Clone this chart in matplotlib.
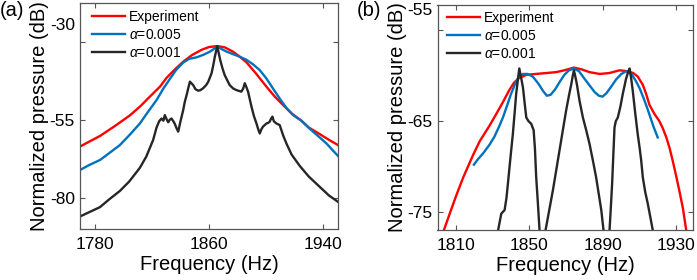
import matplotlib
matplotlib.use("Agg")
import matplotlib.pyplot as plt
from matplotlib.transforms import ScaledTranslation

plt.rcParams["font.family"] = ["Liberation Sans", "DejaVu Sans"]
plt.rcParams["mathtext.fontset"] = "custom"
plt.rcParams["mathtext.rm"] = "Liberation Sans"
plt.rcParams["mathtext.it"] = "Liberation Sans:italic"
plt.rcParams["axes.unicode_minus"] = False

# ---- panel (a) data ----
f_a_exp = [1769.5, 1776, 1783.5, 1794, 1804.5, 1812, 1818.5, 1825.6, 1830.2, 1836, 1841.9, 1848,
           1854.8, 1860, 1865.8, 1871, 1876.9, 1881, 1886.3, 1893, 1900.3, 1906, 1912, 1918,
           1924.8, 1930, 1937.7, 1944, 1950.5]
db_a_exp = [-63.6, -62.0, -60.2, -57.0, -53.6, -50.6, -47.6, -44.4, -41.6, -38.9, -36.4, -34.3,
            -32.6, -31.7, -31.4, -31.8, -33.2, -34.6, -36.6, -40.2, -44.4, -47.5, -50.3, -53.0,
            -55.3, -57.5, -59.6, -61.4, -63.1]

f_a_005 = [1769.5, 1776, 1783.5, 1790, 1797.5, 1804, 1811.5, 1817, 1823.2, 1828, 1832.6, 1837,
           1841.9, 1846, 1851.3, 1856, 1860.6, 1863.5, 1865.8, 1869, 1872, 1876.9, 1881, 1886.3,
           1891, 1895.6, 1900.3, 1904.9, 1909.6, 1914.3, 1919, 1924.8, 1930.7, 1936, 1942.4, 1950.5]
db_a_005 = [-71.1, -69.5, -67.9, -65.7, -63.1, -60.0, -56.2, -52.6, -48.7, -45.0, -41.9, -39.0,
            -36.7, -35.5, -35.0, -34.2, -33.2, -32.3, -31.5, -32.4, -33.1, -34.0, -34.7, -35.8,
            -37.3, -39.1, -41.8, -45.0, -48.2, -51.2, -53.5, -55.3, -57.9, -60.0, -62.6, -66.6]

f_a_001 = [1769.5, 1776, 1783.5, 1790, 1797.5, 1804, 1811.5, 1816, 1820.8, 1823.2, 1825, 1826.7,
           1828, 1829, 1830.2, 1831.4, 1832.5, 1833.7, 1835, 1836, 1837.3, 1838.4, 1840, 1841.9,
           1843, 1844.3, 1845.5, 1846.6, 1848.9, 1850.5, 1852.4, 1854, 1855.9, 1858, 1859.5,
           1861.8, 1863, 1864.1, 1865.8, 1866.8, 1867.9, 1869.5, 1871, 1874.5, 1877, 1879.2,
           1882.7, 1884, 1885.1, 1886.2, 1887.4, 1889.8, 1891.5, 1893.3, 1894.5, 1895.6, 1896.8,
           1897.9, 1900.3, 1901.5, 1902.6, 1903.5, 1904.5, 1905.5, 1907.3, 1909.6, 1912, 1914.3,
           1918, 1923.7, 1930, 1937.7, 1944, 1950.5]
db_a_001 = [-86.0, -84.6, -83.0, -80.5, -77.8, -74.8, -70.4, -66.8, -61.5, -57.5, -55.5, -54.6,
            -55.3, -53.5, -54.8, -55.8, -55.0, -54.6, -55.5, -56.3, -57.8, -58.8, -55.5, -51.9,
            -49.3, -47.1, -44.8, -42.8, -43.9, -45.2, -45.7, -45.5, -44.9, -43.9, -42.8,
            -40.1, -37.5, -34.8, -31.4, -33.6, -35.9, -38.6, -40.7, -43.9, -45.0, -45.5,
            -46.0, -45.0, -43.3, -44.5, -46.0, -50.8, -53.8, -56.2, -58.0, -59.4, -58.0,
            -57.2, -56.2, -56.0, -55.6, -54.7, -54.0, -55.5, -56.2, -56.7, -60.0, -62.6,
            -66.2, -69.8, -73.2, -76.5, -79.2, -81.3]

# ---- panel (b) data ----
f_b_exp = [1803.5, 1807, 1810.2, 1814, 1819.2, 1823, 1828.3, 1832, 1835.6, 1839, 1841.5, 1844,
           1848.3, 1853.6, 1859.2, 1864.5, 1869, 1874.2, 1878.5, 1882.7, 1888.2, 1893.5, 1899,
           1903.5, 1906.5, 1909, 1911.7, 1913.5, 1915.3, 1918, 1920.7, 1922.6, 1924.5, 1926.3,
           1928, 1929.9, 1931.7, 1933.5, 1935.3]
db_b_exp = [-77.0, -75.0, -73.2, -71.2, -68.8, -67.2, -65.5, -64.2, -62.9, -61.6, -60.8, -60.3,
            -59.9, -59.8, -59.7, -59.6, -59.4, -59.1, -59.3, -59.6, -59.8, -59.7, -59.4,
            -59.5, -59.7, -60.1, -61.0, -62.0, -63.2, -64.2, -65.0, -65.8, -66.8, -68.0,
            -69.4, -71.1, -72.8, -74.6, -77.0]

f_b_005 = [1819.8, 1822, 1825, 1828.3, 1831, 1833.5, 1835.6, 1838, 1840, 1842, 1844, 1846.5,
           1849, 1851.9, 1855, 1857.5, 1859.5, 1861.5, 1864, 1866.4, 1869, 1871.5, 1874.2, 1877,
           1879.5, 1882.5, 1885.5, 1887.8, 1889.8, 1892, 1894.5, 1897.2, 1900, 1902.8, 1905.5,
           1908, 1910, 1912, 1914, 1915.5, 1917.5, 1919.8]
db_b_005 = [-69.8, -69.2, -68.5, -67.6, -66.7, -65.6, -64.6, -63.2, -62.0, -61.0, -60.2, -59.8,
            -59.8, -60.1, -60.9, -61.7, -62.2, -62.1, -61.5, -60.7, -59.9, -59.4, -59.2, -59.5,
            -60.2, -61.0, -61.8, -62.2, -62.3, -61.9, -61.2, -60.4, -59.8, -59.5, -59.8,
            -60.6, -61.4, -62.4, -63.5, -64.4, -65.6, -66.8]

f_b_001_1 = [1832.0, 1833.0, 1834.7, 1836.5, 1837.5, 1838.3, 1839.7, 1841.0, 1842.0, 1842.8,
             1843.8, 1844.5, 1845.3, 1846.5, 1847.3, 1848.3, 1849.5, 1851.0, 1852.3, 1853.0,
             1853.7, 1854.6, 1855.5, 1856.0]
db_b_001_1 = [-78.0, -77.0, -75.2, -74.8, -73.5, -71.9, -69.0, -66.4, -64.0, -62.0,
              -60.3, -59.2, -60.0, -61.3, -62.8, -64.6, -65.0, -65.3, -66.0, -68.0,
              -71.2, -74.0, -77.0, -78.5]
f_b_001_2 = [1858.0, 1858.8, 1860.8, 1862.8, 1864.6, 1866.4, 1868.2, 1870.0, 1871.5, 1872.8,
             1873.6, 1874.2, 1874.9, 1875.8, 1877.3, 1879.1, 1880.9, 1882.7, 1884.5, 1886.3,
             1887.7, 1889.1, 1890.3, 1891.0]
db_b_001_2 = [-78.5, -77.0, -74.8, -72.6, -70.4, -68.2, -66.0, -63.8, -62.2, -60.9,
              -60.0, -59.4, -60.0, -60.9, -62.8, -64.6, -66.0, -67.5, -69.3, -71.2,
              -73.0, -74.8, -77.0, -78.5]
f_b_001_3 = [1893.0, 1893.6, 1894.3, 1895.0, 1895.7, 1896.3, 1897.0, 1898.1, 1899.5, 1900.8,
             1902.5, 1903.7, 1904.5, 1905.3, 1906.2, 1907.5, 1908.9, 1910.0, 1910.8, 1911.7,
             1913.0, 1914.4, 1915.8, 1917.1, 1918.0]
db_b_001_3 = [-78.5, -77.0, -74.5, -71.9, -68.5, -65.7, -65.0, -64.6, -63.4, -62.0,
              -60.4, -59.6, -59.2, -60.2, -61.6, -64.0, -66.4, -68.0, -69.3, -71.2,
              -72.8, -74.1, -75.6, -77.0, -78.5]

labels = ["Experiment", r"$\alpha$=0.005", r"$\alpha$=0.001"]
c_exp = "#ff0000"
c_005 = "#0072bd"
c_001 = "#262626"
lw = 1.7
edge = "#555555"

fig = plt.figure(figsize=(6.97, 2.8), dpi=100)
W, H = 697.0, 280.0
ax1 = fig.add_axes([80 / W, 1 - 229 / H, 258 / W, 226 / H])
ax2 = fig.add_axes([437.5 / W, 1 - 230 / H, 255.5 / W, 225 / H])


def style(ax, xt, yt, xlim, ylim, top_shift):
    ax.set_xlim(*xlim)
    ax.set_ylim(*ylim)
    ax.set_xticks(xt)
    ax.set_yticks(yt)
    # top y label sits higher than its tick in the original
    ax.set_yticklabels([""] + [str(v) for v in yt[1:]])
    off = ScaledTranslation(-3.6 / 72, top_shift / 72, fig.dpi_scale_trans)
    ax.text(0, yt[0], str(yt[0]), transform=ax.get_yaxis_transform() + off,
            ha="right", va="center", fontsize=12.5)
    ax.tick_params(direction="in", top=True, right=True, length=3.5, width=0.8,
                   color=edge, labelsize=12.5)
    ax.tick_params(axis="x", pad=5.5)
    ax.tick_params(axis="y", pad=3.6)
    for s in ax.spines.values():
        s.set_color(edge)
        s.set_linewidth(0.9)
    ax.set_xlabel("Frequency (Hz)", fontsize=14.5, labelpad=2.5)
    ax.set_ylabel("Normalized pressure (dB)", fontsize=14.5, labelpad=0.5)


# panel (a)
ax1.plot(f_a_exp, db_a_exp, color=c_exp, lw=lw, label=labels[0])
ax1.plot(f_a_005, db_a_005, color=c_005, lw=lw, label=labels[1])
ax1.plot(f_a_001, db_a_001, color=c_001, lw=lw, label=labels[2])
style(ax1, [1780, 1860, 1940], [-30, -55, -80], (1769.5, 1950.5), (-90, -17.6), 12)
ax1.legend(loc="upper left", bbox_to_anchor=(6 / 258, 1 - 1.4 / 226), borderaxespad=0,
           frameon=False, fontsize=10, handlelength=2.4, handletextpad=0.3, labelspacing=0.3)

# panel (b)
ax2.plot(f_b_exp, db_b_exp, color=c_exp, lw=lw, label=labels[0])
ax2.plot(f_b_005, db_b_005, color=c_005, lw=lw, label=labels[1])
ax2.plot(f_b_001_1, db_b_001_1, color=c_001, lw=lw, label=labels[2])
ax2.plot(f_b_001_2, db_b_001_2, color=c_001, lw=lw)
ax2.plot(f_b_001_3, db_b_001_3, color=c_001, lw=lw)
style(ax2, [1810, 1850, 1890, 1930], [-55, -65, -75], (1800, 1939), (-77, -52.2), 14.5)
ax2.legend(loc="upper left", bbox_to_anchor=(3.6 / 255.5, 1 - 0.4 / 225), borderaxespad=0,
           frameon=False, fontsize=10, handlelength=2.4, handletextpad=0.3, labelspacing=0.3)

fig.text(0.0, 1 - 16 / H, "(a)", fontsize=14.5, va="baseline", ha="left")
fig.text(357 / W, 1 - 16 / H, "(b)", fontsize=14.5, va="baseline", ha="left")

fig.savefig("out.png", dpi=100)
